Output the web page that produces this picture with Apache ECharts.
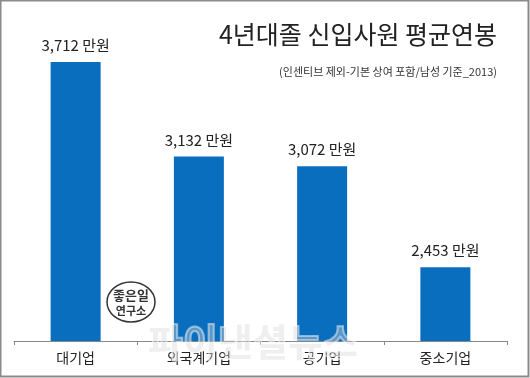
<!DOCTYPE html>
<html><head><meta charset="utf-8">
<script src="https://cdn.jsdelivr.net/npm/echarts@6/dist/echarts.min.js"></script>
<style>html,body{margin:0;padding:0;background:#fff}#c{width:530px;height:378px}</style>
</head><body><div id="c"></div>
<script>
const categories = ['대기업', '외국계기업', '공기업', '중소기업'];
const salaries = [3712, 3132, 3072, 2453];
const unit = ' 만원';
const titleText = '4년대졸 신입사원 평균연봉';
const subtitleText = '(인센티브 제외-기본 상여 포함/남성 기준_2013)';
const font = '"Noto Sans CJK KR", "Noto Sans", sans-serif';

const chart = echarts.init(document.getElementById('c'), null, {renderer: 'canvas'});
chart.setOption({
  animation: false,
  backgroundColor: '#fff',
  title: [
    {text: titleText, right: 28, top: 17, textStyle: {fontFamily: font, fontSize: 25, fontWeight: 'normal', color: '#222'}},
    {text: subtitleText, right: 28, top: 61, textStyle: {fontFamily: font, fontSize: 11, fontWeight: 'normal', color: '#333'}}
  ],
  grid: {left: 14, right: 23, top: 15, bottom: 37, containLabel: false},
  xAxis: {
    type: 'category', data: categories,
    axisLine: {lineStyle: {color: '#888', width: 1}},
    axisTick: {show: true, length: 4, lineStyle: {color: '#888'}},
    axisLabel: {fontFamily: font, fontSize: 14, color: '#222', margin: 10}
  },
  yAxis: {type: 'value', min: 2000, max: 4000, show: false, splitLine: {show: false}},
  series: [{
    type: 'bar', data: salaries, barWidth: 50,
    itemStyle: {color: '#0a6ebf'},
    label: {show: true, position: 'top', distance: 9, fontFamily: font, fontSize: 15, color: '#222',
      formatter: p => p.value.toLocaleString('en-US') + unit}
  }],
  graphic: [
    {type: 'rect', shape: {x: 0.5, y: 0.5, width: 528, height: 376}, style: {fill: 'none', stroke: '#8a8a8a', lineWidth: 2}, silent: true},
    {type: 'ellipse', shape: {cx: 131, cy: 302, rx: 24, ry: 20}, style: {fill: 'none', stroke: '#333', lineWidth: 1.5}, z: 10},
    {type: 'text', x: 131, y: 295, style: {text: '좋은일', font: 'bold 13px ' + font, fill: '#333', align: 'center', verticalAlign: 'middle'}, z: 10},
    {type: 'text', x: 131, y: 311, style: {text: '연구소', font: 'bold 11px ' + font, fill: '#333', align: 'center', verticalAlign: 'middle'}, z: 10},
    {type: 'text', x: 253, y: 342, style: {text: '파이낸셜뉴스', font: 'bold 38px ' + font, fill: 'rgba(215,215,215,0.4)', stroke: 'rgba(255,255,255,0.5)', lineWidth: 2, align: 'center', verticalAlign: 'middle'}, z: 20}
  ]
});
</script></body></html>
